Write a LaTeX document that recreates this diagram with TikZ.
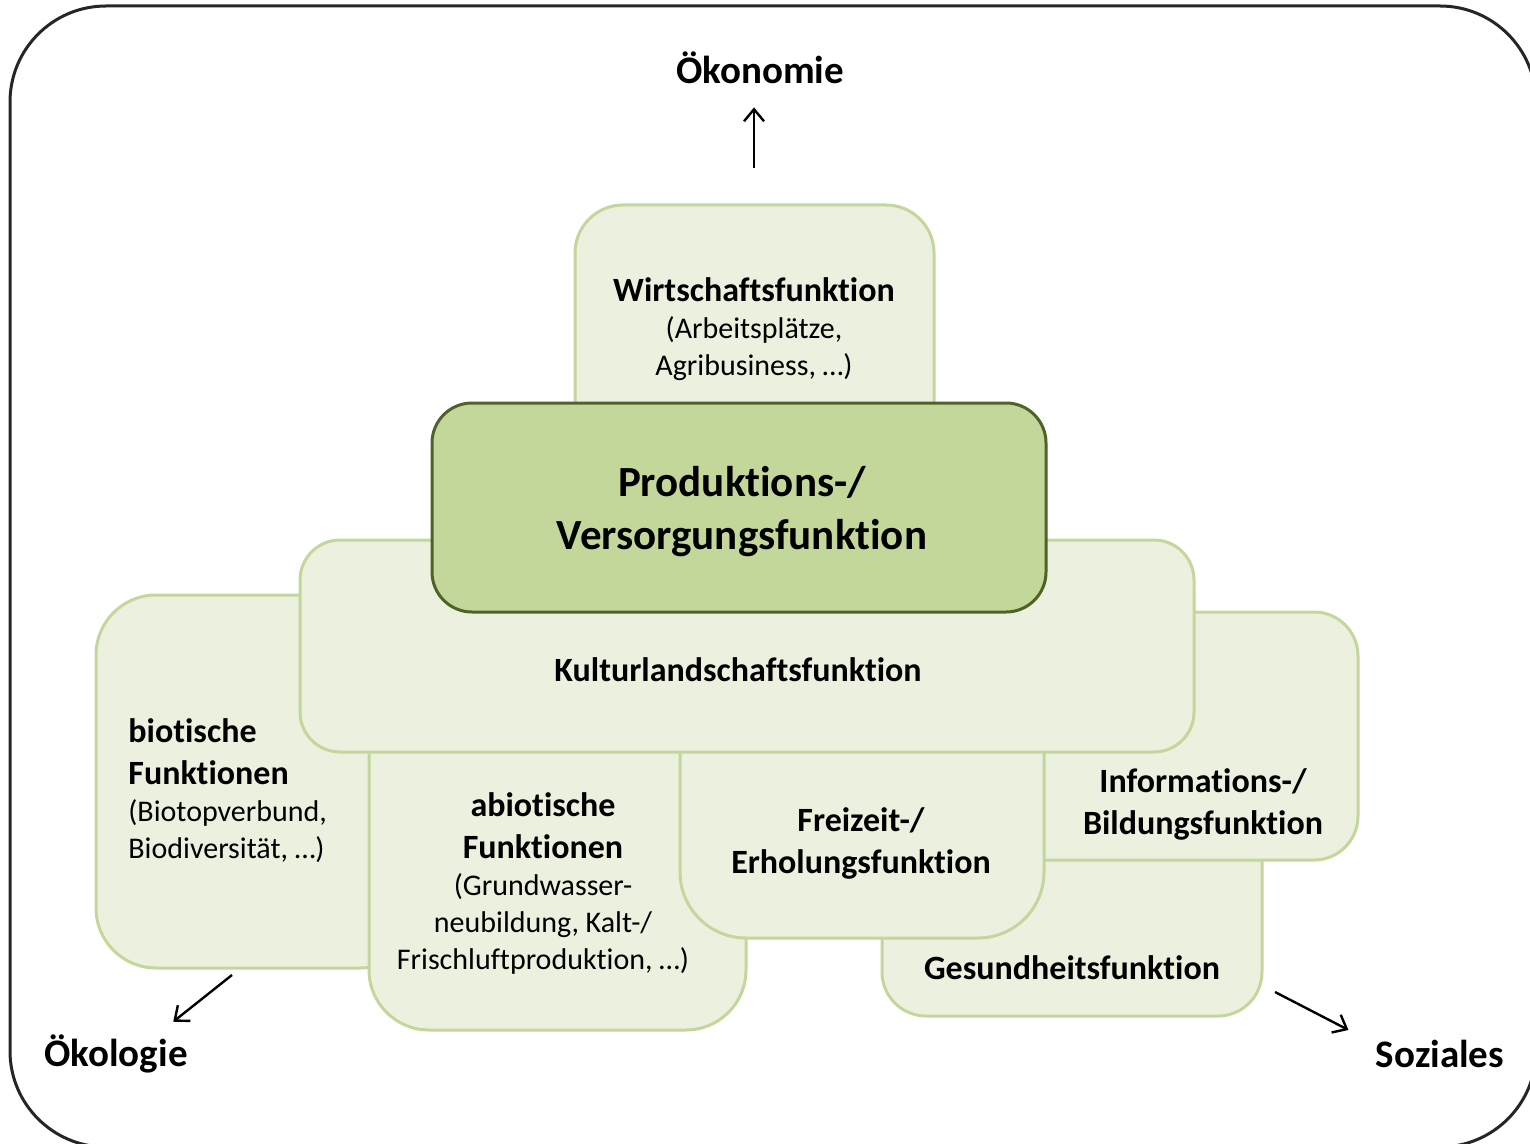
\documentclass[tikz,border=0pt]{standalone}
\usepackage{fontspec}
\setmainfont[Ligatures=NoCommon]{Carlito}
\usetikzlibrary{arrows.meta}

\definecolor{boxfill}{HTML}{EBF1DE}
\definecolor{boxline}{HTML}{C3D69B}
\definecolor{corefill}{HTML}{C4D79B}
\definecolor{coreline}{HTML}{4F6228}

\newcommand{\fhead}{\fontsize{17}{21}\selectfont\bfseries}
\newcommand{\fsub}{\fontsize{15}{18.5}\selectfont\mdseries}

\begin{document}
\begin{tikzpicture}[x=0.5pt, y=-0.5pt,
                    funcbox/.style={draw=boxline, fill=boxfill,
                                    line width=1.5pt, inner sep=0pt},
                    corebox/.style={draw=coreline, fill=corefill,
                                    line width=1.5pt, rounded corners=20pt},
                    functext/.style={inner sep=0pt, align=center},
                    pillar/.style={font=\fontsize{19.5}{23}\selectfont\bfseries,
                                   inner sep=2pt},
                    flow/.style={-{Straight Barb[length=6pt,width=10pt]},
                                 line width=1.2pt}]
  % Fix the page to the size of the picture (1 unit = 1 pixel)
  \path[use as bounding box, clip] (0,0) rectangle (1530,1144);

  % The outer frame runs past the right and the bottom edge
  \draw[line width=1.5pt, black!85, rounded corners=48pt]
    (10,6) rectangle (1536,1147);

  % Function boxes, from the back to the front
  \node[funcbox, rounded corners=22pt, minimum width=190pt,
        minimum height=108pt] (gesund) at (1072,908) {};
  \node[funcbox, rounded corners=22pt, minimum width=179pt,
        minimum height=124pt] (info) at (1179,736) {};
  \node[funcbox, rounded corners=30pt, minimum width=162pt,
        minimum height=186.5pt] (biotic) at (258,781.5) {};
  \node[funcbox, rounded corners=30pt, minimum width=188.5pt,
        minimum height=190pt] (abiotic) at (557.5,840) {};
  \node[funcbox, rounded corners=33pt, minimum width=182pt,
        minimum height=144pt] (freizeit) at (862,794) {};
  \node[funcbox, rounded corners=20pt, minimum width=447pt,
        minimum height=106pt] (kultur) at (747,646) {};
  \node[funcbox, rounded corners=24pt, minimum width=179.5pt,
        minimum height=132.5pt] (wirtschaft) at (754.5,337.5) {};

  % The core function sits on top of everything
  \node[corebox, minimum width=307pt, minimum height=104.5pt] (core)
    at (739,507.5) {};
  \node[functext, font=\fontsize{21.5}{26.5}\selectfont\bfseries] (coreText)
    at (742,512) {Produktions-/\\Versorgungsfunktion};

  % Texts of the boxes
  \node[functext, text width=180pt] (wirtschaftText) at (754,329)
    {{\fhead Wirtschaftsfunktion\par}\fsub (Arbeitsplätze,\\Agribusiness, …)\par};
  \node[functext, font=\fhead] (kulturText) at (738,670)
    {Kulturlandschaftsfunktion};
  \node[functext, text width=110pt, align=left, anchor=west] (bioticText)
    at (128,791)
    {{\fhead biotische\\Funktionen\par}\fsub (Biotopverbund,\\Biodiversität, …)\par};
  \node[functext, text width=170pt] (abioticText) at (543,883)
    {{\fhead abiotische\\Funktionen\par}\fsub (Grundwasser-\\neubildung, Kalt-/\\Frischluftproduktion, …)\par};
  \node[functext, text width=160pt, font=\fhead] (freizeitText) at (861,843)
    {Freizeit-/\\Erholungsfunktion};
  \node[functext, text width=150pt, font=\fhead] (infoText) at (1203,804)
    {Informations-/\\Bildungsfunktion};
  \node[functext, font=\fhead] (gesundText) at (1072,968)
    {Gesundheitsfunktion};

  % The three pillars and the arrows pointing to them
  \node[pillar] (oekonomie) at (760,68) {Ökonomie};
  \node[pillar] (oekologie) at (116,1054) {Ökologie};
  \node[pillar] (soziales) at (1440,1054) {Soziales};

  \coordinate (oekonomieFoot) at (754,168);
  \coordinate (oekologieFoot) at (232,975);
  \coordinate (sozialesFoot) at (1275,992);

  \draw[flow, shorten >=9.5pt] (oekonomieFoot) -- (oekonomieFoot |- oekonomie.south);
  \draw[flow, shorten >=7pt] (oekologieFoot) -- (oekologie.27);
  \draw[flow, shorten >=13pt] (sozialesFoot) -- (soziales.170);
\end{tikzpicture}
\end{document}
